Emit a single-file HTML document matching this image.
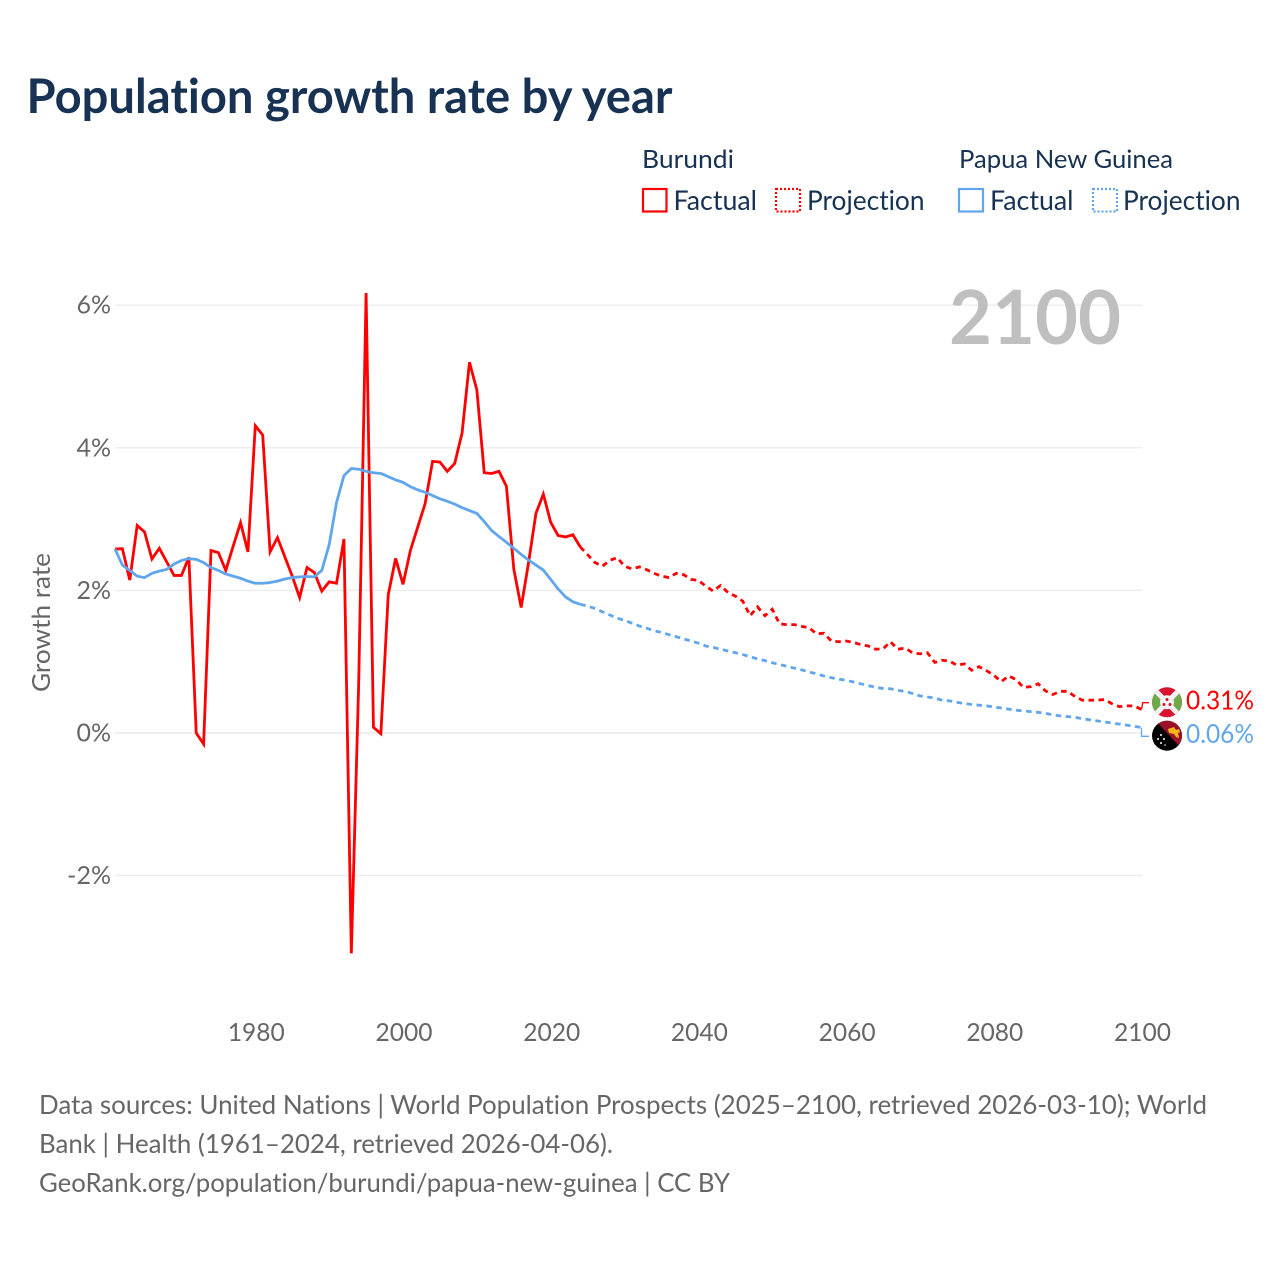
<!DOCTYPE html>
<html lang="en">
<head>
<meta charset="utf-8">
<title>Population growth rate by year</title>
<style>
html,body{margin:0;padding:0;background:#fff;width:1280px;height:1280px;overflow:hidden}
svg{display:block}
text{font-family:"Lato","Carlito","Liberation Sans",sans-serif;font-variant-ligatures:none}
</style>
</head>
<body>
<svg id="chart" xmlns="http://www.w3.org/2000/svg" width="1280" height="1280" viewBox="0 0 1280 1280">
  <text x="26.5" y="113" font-size="47.5" font-weight="700" fill="#173252" textLength="646" lengthAdjust="spacingAndGlyphs">Population growth rate by year</text>

  <g>
    <text x="642" y="168" font-size="25.5" fill="#173252" textLength="92" lengthAdjust="spacingAndGlyphs">Burundi</text>
    <text x="959" y="168" font-size="25.5" fill="#173252" textLength="214" lengthAdjust="spacingAndGlyphs">Papua New Guinea</text>
    <rect x="643" y="189" width="23.5" height="22.5" fill="none" stroke="#ff0000" stroke-width="2.2"/>
    <text x="673.5" y="210" font-size="27.5" fill="#173252" textLength="83.5" lengthAdjust="spacingAndGlyphs">Factual</text>
    <rect x="776" y="189" width="24" height="22.5" fill="none" stroke="#ff0000" stroke-width="2.2" stroke-dasharray="2 2"/>
    <text x="807" y="210" font-size="27.5" fill="#173252" textLength="117.5" lengthAdjust="spacingAndGlyphs">Projection</text>
    <rect x="959" y="189" width="24" height="22.5" fill="none" stroke="#60a6ec" stroke-width="2.2"/>
    <text x="990" y="210" font-size="27.5" fill="#173252" textLength="83.5" lengthAdjust="spacingAndGlyphs">Factual</text>
    <rect x="1093" y="189" width="24" height="22.5" fill="none" stroke="#60a6ec" stroke-width="2.2" stroke-dasharray="2 2"/>
    <text x="1123" y="210" font-size="27.5" fill="#173252" textLength="117.5" lengthAdjust="spacingAndGlyphs">Projection</text>
  </g>

  <g id="grid"></g>
  <g id="yticks"></g>
  <g id="xticks"></g>

  <text x="0" y="0" transform="translate(50,622.5) rotate(-90)" text-anchor="middle" font-size="25.5" fill="#666666" textLength="139" lengthAdjust="spacingAndGlyphs">Growth rate</text>

  <text x="1121" y="344" text-anchor="end" font-size="75" font-weight="700" fill="#bfbfbf" textLength="172" lengthAdjust="spacingAndGlyphs">2100</text>

  <g id="series"></g>

  <g>
    <clipPath id="clipBi"><circle cx="1167" cy="702.3" r="15"/></clipPath>
    <g clip-path="url(#clipBi)">
      <rect x="1152" y="687" width="30" height="31" fill="#d8132f"/>
      <polygon points="1152,687 1167,702.3 1152,718" fill="#6fa84a"/>
      <polygon points="1182,687 1167,702.3 1182,718" fill="#6fa84a"/>
      <path d="M1152 687L1182 718M1182 687L1152 718" stroke="#f2f2f2" stroke-width="5"/>
      <circle cx="1167" cy="702.3" r="7" fill="#f2f2f2"/>
      <circle cx="1167" cy="699.5" r="1.5" fill="#d8132f"/>
      <circle cx="1164" cy="704.5" r="1.5" fill="#d8132f"/>
      <circle cx="1170" cy="704.5" r="1.5" fill="#d8132f"/>
    </g>
  </g>
  <g>
    <clipPath id="clipPg"><circle cx="1167" cy="735.7" r="15"/></clipPath>
    <g clip-path="url(#clipPg)">
      <rect x="1152" y="720" width="30" height="31" fill="#000"/>
      <polygon points="1155,720 1182,720 1182,749" fill="#9c1028"/>
      <path d="M1168 729l6-2 2 3 3-1 1 3-2 1 1 5-3-1-2-3-5-1z" fill="#f3b61f"/>
      <circle cx="1161" cy="735" r="1" fill="#fff"/>
      <circle cx="1164" cy="739" r="1" fill="#fff"/>
      <circle cx="1158" cy="739" r="1" fill="#fff"/>
      <circle cx="1161" cy="743" r="1" fill="#fff"/>
      <circle cx="1165" cy="745" r="0.8" fill="#fff"/>
    </g>
  </g>

  <g>
    <text x="39" y="1114" font-size="26.5" fill="#666666" textLength="1168" lengthAdjust="spacingAndGlyphs">Data sources: United Nations | World Population Prospects (2025–2100, retrieved 2026-03-10); World</text>
    <text x="39" y="1153" font-size="26.5" fill="#666666" textLength="574" lengthAdjust="spacingAndGlyphs">Bank | Health (1961–2024, retrieved 2026-04-06).</text>
    <text x="39" y="1192" font-size="26.5" fill="#666666" textLength="691" lengthAdjust="spacingAndGlyphs">GeoRank.org/population/burundi/papua-new-guinea | CC BY</text>
  </g>
</svg>

<script>
const yTickValues = [6, 4, 2, 0, -2];
const xTickYears = [1980, 2000, 2020, 2040, 2060, 2080, 2100];
const factualStartYear = 1961;
const projectionStartYear = 2024;

const burundiFactual = [
  2.58, 2.585, 2.145, 2.91, 2.82, 2.44, 2.59, 2.40, 2.21, 2.21,
  2.465, 0.0, -0.155, 2.56, 2.53, 2.28, 2.62, 2.95, 2.54, 4.31,
  4.18, 2.54, 2.74, 2.47, 2.20, 1.90, 2.32, 2.25, 1.99, 2.12,
  2.10, 2.72, -3.09, 0.7, 6.17, 0.08, -0.01, 1.94, 2.45, 2.085,
  2.56, 2.89, 3.22, 3.81, 3.80, 3.67, 3.78, 4.21, 5.20, 4.81,
  3.65, 3.64, 3.67, 3.46, 2.30, 1.76, 2.39, 3.08, 3.35, 2.955,
  2.77, 2.75, 2.78, 2.61
];
const burundiProjection = [
  2.61, 2.50, 2.39, 2.34, 2.42, 2.46, 2.34, 2.30, 2.33, 2.29,
  2.24, 2.20, 2.18, 2.24, 2.22, 2.155, 2.14, 2.06, 1.99, 2.07,
  1.97, 1.92, 1.85, 1.645, 1.77, 1.645, 1.735, 1.53, 1.52, 1.52,
  1.495, 1.475, 1.39, 1.40, 1.29, 1.28, 1.29, 1.27, 1.24, 1.22,
  1.175, 1.18, 1.28, 1.175, 1.19, 1.125, 1.11, 1.125, 0.99, 1.02,
  1.01, 0.95, 0.97, 0.88, 0.93, 0.875, 0.81, 0.72, 0.80, 0.75,
  0.64, 0.65, 0.69, 0.59, 0.54, 0.585, 0.585, 0.51, 0.46, 0.46,
  0.46, 0.47, 0.41, 0.37, 0.38, 0.38, 0.33
];
const pngFactual = [
  2.58, 2.355, 2.28, 2.20, 2.18, 2.24, 2.27, 2.295, 2.37, 2.42,
  2.445, 2.435, 2.39, 2.32, 2.28, 2.23, 2.20, 2.17, 2.13, 2.10,
  2.10, 2.11, 2.13, 2.16, 2.18, 2.19, 2.195, 2.19, 2.28, 2.64,
  3.235, 3.61, 3.71, 3.70, 3.67, 3.65, 3.64, 3.595, 3.55, 3.515,
  3.455, 3.41, 3.375, 3.33, 3.285, 3.25, 3.21, 3.16, 3.12, 3.08,
  2.965, 2.84, 2.755, 2.675, 2.59, 2.505, 2.425, 2.355, 2.285, 2.155,
  2.02, 1.91, 1.84, 1.805
];
const pngProjection = [
  1.805, 1.78, 1.745, 1.70, 1.655, 1.61, 1.58, 1.54, 1.50, 1.47,
  1.435, 1.41, 1.38, 1.35, 1.32, 1.29, 1.26, 1.22, 1.20, 1.175,
  1.15, 1.125, 1.10, 1.07, 1.04, 1.015, 0.985, 0.96, 0.935, 0.91,
  0.885, 0.855, 0.83, 0.80, 0.775, 0.755, 0.74, 0.715, 0.69, 0.665,
  0.64, 0.625, 0.62, 0.60, 0.58, 0.555, 0.52, 0.505, 0.49, 0.46,
  0.45, 0.43, 0.415, 0.40, 0.39, 0.38, 0.365, 0.35, 0.335, 0.32,
  0.31, 0.30, 0.29, 0.275, 0.255, 0.24, 0.23, 0.22, 0.20, 0.185,
  0.17, 0.155, 0.14, 0.125, 0.11, 0.095, 0.075
];
const endLabelBurundi = "0.31%";
const endLabelPng = "0.06%";

const NS = "http://www.w3.org/2000/svg";
const RED = "#ff0000";
const BLUE = "#60a6ec";
const xScale = function (year) { return 115 + (year - 1961) * 7.385; };
const yScale = function (value) { return 733 - value * 71.3; };

function make(tag, attrs, parent, content) {
  const node = document.createElementNS(NS, tag);
  Object.keys(attrs).forEach(function (key) { node.setAttribute(key, attrs[key]); });
  if (content !== undefined) node.textContent = content;
  parent.appendChild(node);
  return node;
}

function linePath(values, startYear) {
  return values.map(function (value, index) {
    return (index ? "L" : "M") + xScale(startYear + index).toFixed(2) + " " + yScale(value).toFixed(2);
  }).join("");
}

const gridGroup = document.getElementById("grid");
const yTickGroup = document.getElementById("yticks");
const xTickGroup = document.getElementById("xticks");
const seriesGroup = document.getElementById("series");
const chartSvg = document.getElementById("chart");

yTickValues.forEach(function (value) {
  const gridLine = make("line", { x1: 115, x2: 1142, y1: yScale(value), y2: yScale(value), stroke: "#ececec", "stroke-width": 1.4 }, gridGroup);
  
  
  const tickLabel = make("text", { x: 111, y: yScale(value) + 8.5, "text-anchor": "end", "font-size": 25, fill: "#666666" }, yTickGroup, value + "%");
  
  
});

xTickYears.forEach(function (year) {
  const yearLabel = make("text", { x: xScale(year) + 1, y: 1041, "text-anchor": "middle", "font-size": 25.5, fill: "#666666", textLength: 57, lengthAdjust: "spacingAndGlyphs" }, xTickGroup, String(year));
  
  
});

const burundiFactualLine = make("path", { d: linePath(burundiFactual, factualStartYear), fill: "none", stroke: RED, "stroke-width": 2.8, "stroke-linejoin": "miter", "stroke-miterlimit": 4 }, seriesGroup);



const burundiProjectionLine = make("path", { d: linePath(burundiProjection, projectionStartYear), fill: "none", stroke: RED, "stroke-width": 2.8, "stroke-dasharray": "5.5 4.5" }, seriesGroup);



const pngFactualLine = make("path", { d: linePath(pngFactual, factualStartYear), fill: "none", stroke: BLUE, "stroke-width": 2.8, "stroke-linejoin": "round" }, seriesGroup);



const pngProjectionLine = make("path", { d: linePath(pngProjection, projectionStartYear), fill: "none", stroke: BLUE, "stroke-width": 2.8, "stroke-dasharray": "5.5 4.5" }, seriesGroup);



const lastBurundi = burundiProjection[burundiProjection.length - 1];
const lastPng = pngProjection[pngProjection.length - 1];
const endX = xScale(2100);

const burundiConnector = make("path", { d: "M" + endX + " " + yScale(lastBurundi) + "L" + (endX + 1.2) + " 702.7L1149 702.7", fill: "none", stroke: RED, "stroke-width": 1.3 }, seriesGroup);



const pngConnector = make("path", { d: "M" + endX + " " + yScale(lastPng) + "L" + endX + " 736.3L1149 736.3", fill: "none", stroke: BLUE, "stroke-width": 1.3 }, seriesGroup);



const burundiEndLabel = make("text", { x: 1186, y: 709.5, "font-size": 26, fill: RED, textLength: 68, lengthAdjust: "spacingAndGlyphs" }, chartSvg, endLabelBurundi);



const pngEndLabel = make("text", { x: 1186, y: 743, "font-size": 26, fill: BLUE, textLength: 68, lengthAdjust: "spacingAndGlyphs" }, chartSvg, endLabelPng);


</script>
</body>
</html>
